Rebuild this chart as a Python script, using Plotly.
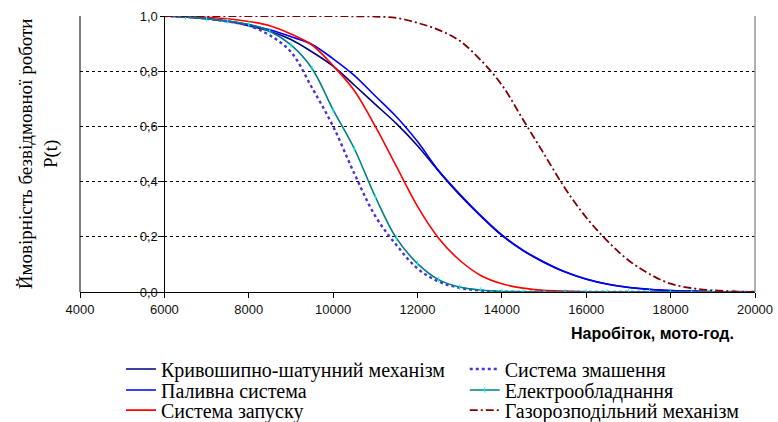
import plotly.graph_objects as go

hours = [6000, 6500, 7000, 7500, 8000, 8500, 9000, 9500, 10000, 10500, 11000, 11500,
         12000, 12500, 13000, 13500, 14000, 14500, 15000, 15500, 16000, 16500, 17000,
         17500, 18000, 18500, 19000, 19500, 20000]

ksm = [1.0, 0.997, 0.99, 0.98, 0.965, 0.945, 0.915, 0.87, 0.818, 0.75, 0.68, 0.61,
       0.53, 0.438, 0.352, 0.275, 0.205, 0.15, 0.107, 0.072, 0.046, 0.028, 0.016,
       0.009, 0.005, 0.003, 0.001, 0.0, 0.0]
palyvna = [1.0, 0.997, 0.99, 0.982, 0.968, 0.95, 0.925, 0.897, 0.845, 0.785, 0.71, 0.635,
           0.545, 0.44, 0.355, 0.277, 0.207, 0.152, 0.109, 0.073, 0.047, 0.029, 0.017,
           0.01, 0.005, 0.003, 0.001, 0.0, 0.0]
zapusk = [1.0, 0.998, 0.995, 0.99, 0.98, 0.965, 0.935, 0.895, 0.82, 0.73, 0.60, 0.455,
          0.31, 0.195, 0.115, 0.06, 0.03, 0.014, 0.006, 0.003, 0.001, 0.0, 0.0,
          0.0, 0.0, 0.0, 0.0, 0.0, 0.0]
zmashennia = [1.0, 0.997, 0.99, 0.98, 0.965, 0.93, 0.87, 0.74, 0.60, 0.43, 0.275, 0.17,
              0.085, 0.038, 0.015, 0.005, 0.001, 0.0, 0.0, 0.0, 0.0, 0.0, 0.0,
              0.0, 0.0, 0.0, 0.0, 0.0, 0.0]
elektro = [1.0, 0.997, 0.99, 0.982, 0.97, 0.945, 0.895, 0.81, 0.66, 0.52, 0.345, 0.195,
           0.103, 0.045, 0.018, 0.007, 0.002, 0.001, 0.0, 0.0, 0.0, 0.0, 0.0,
           0.0, 0.0, 0.0, 0.0, 0.0, 0.0]
gazo = [1.0, 1.0, 1.0, 1.0, 1.0, 1.0, 1.0, 1.0, 1.0, 0.999, 0.998, 0.993,
        0.975, 0.95, 0.91, 0.84, 0.75, 0.625, 0.50, 0.375, 0.27, 0.185, 0.115,
        0.065, 0.03, 0.014, 0.006, 0.002, 0.0]

x_ticks = [4000, 6000, 8000, 10000, 12000, 14000, 16000, 18000, 20000]
x_labels = ["4000", "6000", "8000", "10000", "12000", "14000", "16000", "18000", "20000"]
y_ticks = [0.0, 0.2, 0.4, 0.6, 0.8, 1.0]
y_labels = ["0,0", "0,2", "0,4", "0,6", "0,8", "1,0"]

serif = "Liberation Serif, Times New Roman, serif"
sans = "Liberation Sans, Arial, sans-serif"

fig = go.Figure()

def add(name, y, color, legend, dash="solid", width=1.6, marker=None):
    kw = {}
    mode = "lines"
    if marker:
        mode = "lines+markers"
        kw["marker"] = marker
    fig.add_trace(go.Scatter(x=hours, y=y, name=name, mode=mode,
                             line=dict(color=color, dash=dash, width=width,
                                       shape="spline", smoothing=1.0),
                             legend=legend, **kw))

add("Кривошипно-шатунний механізм", ksm, "#000080", "legend")
add("Паливна система", palyvna, "#0000FF", "legend2")
add("Система запуску", zapusk, "#FF0000", "legend3")
add("Система змашення", zmashennia, "#4B32D8", "legend4", dash="dot", width=2.4)
add("Електрообладнання", elektro, "#008080", "legend5",
    marker=dict(symbol="line-ns", size=4, color="#00FFFF",
                line=dict(color="#00FFFF", width=1)))
add("Газорозподільний механізм", gazo, "#800000", "legend6",
    dash="8px,3px,2px,3px", width=1.8)

legend_common = dict(font=dict(family=serif, size=20, color="#000"),
                     bgcolor="rgba(0,0,0,0)", tracegroupgap=0,
                     yanchor="middle", xanchor="left", itemwidth=30)

# plot area: 80..755 px horizontally, 16..292 px vertically
col1_x, col2_x = 0.0607, 0.570
row_y = [-0.279, -0.355, -0.428]

fig.update_layout(
    width=778, height=422,
    margin=dict(l=80, r=23, t=16, b=130, autoexpand=False),
    paper_bgcolor="white", plot_bgcolor="white",
    showlegend=True,
    legend=dict(x=col1_x, y=row_y[0], **legend_common),
    legend2=dict(x=col1_x, y=row_y[1], **legend_common),
    legend3=dict(x=col1_x, y=row_y[2], **legend_common),
    legend4=dict(x=col2_x, y=row_y[0], **legend_common),
    legend5=dict(x=col2_x, y=row_y[1], **legend_common),
    legend6=dict(x=col2_x, y=row_y[2], **legend_common),
    xaxis=dict(range=[4000, 20000], tickvals=x_ticks, ticktext=x_labels,
               showline=True, linecolor="#000", linewidth=1,
               ticks="outside", ticklen=5, tickcolor="#000",
               showgrid=False, zeroline=False,
               tickfont=dict(family=sans, size=13, color="#111")),
    yaxis=dict(range=[0, 1.0], tickvals=y_ticks, ticktext=y_labels,
               anchor="free", position=0.125,
               showline=True, linecolor="#000", linewidth=1,
               ticks="outside", ticklen=4, tickcolor="#000",
               showgrid=True, gridcolor="#000", griddash="dot", gridwidth=1,
               zeroline=False,
               tickfont=dict(family=sans, size=13, color="#111")),
    shapes=[
        dict(type="line", xref="paper", yref="paper", x0=0, x1=0, y0=0, y1=1,
             line=dict(color="#000", width=1)),
        dict(type="line", xref="paper", yref="paper", x0=1, x1=1, y0=0, y1=1,
             line=dict(color="#999", width=1.5)),
    ],
    annotations=[
        dict(text="Ймовірність безвідмовної роботи<br>P(t)", xref="paper", yref="paper",
             x=-0.062, y=0.5, xanchor="center", yanchor="middle", textangle=-90,
             showarrow=False, font=dict(family=serif, size=19, color="#000")),
        dict(text="<b>Наробіток, мото-год.</b>", xref="paper", yref="paper",
             x=0.972, y=-0.152, xanchor="right", yanchor="middle",
             showarrow=False, font=dict(family=sans, size=16, color="#000")),
    ],
)

fig.write_html("out.html", config={"displayModeBar": False},
               post_script="document.body.style.margin='0';document.body.style.padding='0';")
